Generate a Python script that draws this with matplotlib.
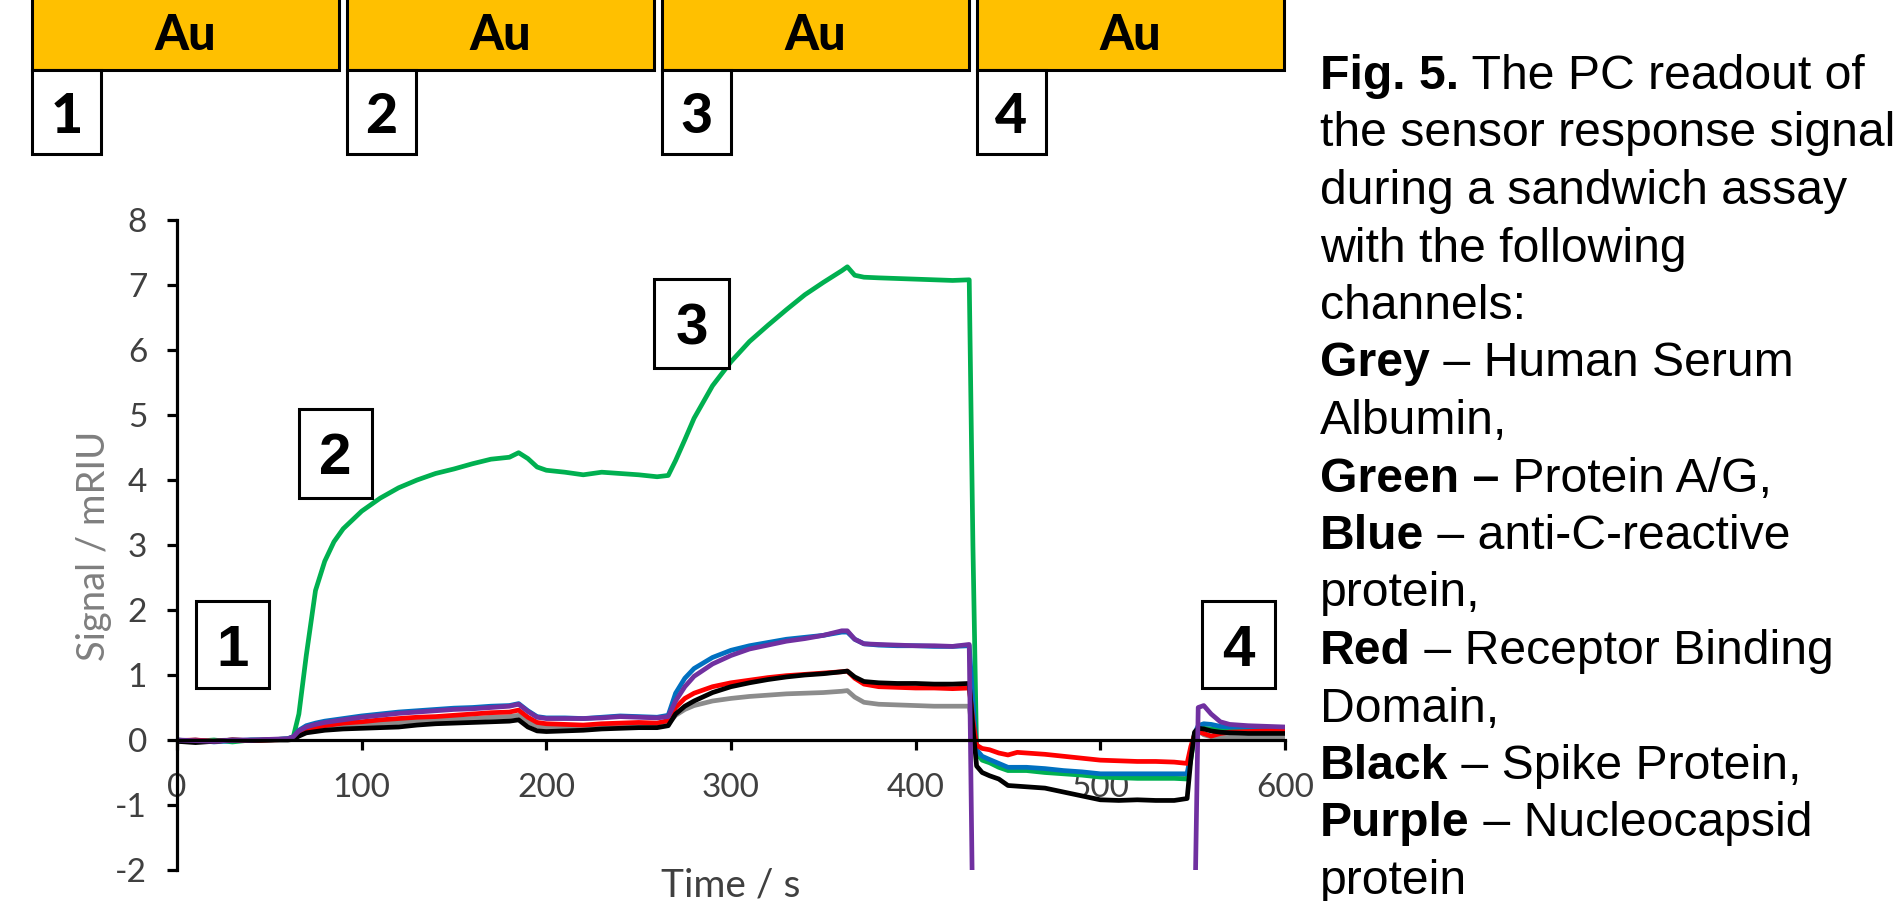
import matplotlib
matplotlib.use("Agg")
import matplotlib.pyplot as plt
from matplotlib.patches import Rectangle

plt.rcParams["font.family"] = ["Lato", "DejaVu Sans"]
plt.rcParams["axes.unicode_minus"] = False

# ---------------- data ----------------
time_s = [0, 10, 20, 30, 40, 50, 60, 63, 66, 70, 75, 80, 85, 90, 100, 110, 120, 130,
          140, 150, 160, 170, 180, 185, 190, 195, 200, 210, 220, 230, 240, 250, 260,
          266, 270, 275, 280, 290, 300, 310, 320, 330, 340, 350, 360, 363, 367, 372,
          380, 390, 400, 410, 420, 429, 431, 433, 436, 440, 445, 450, 455, 460, 470,
          480, 490, 500, 510, 520, 530, 540, 547, 549, 551, 553, 556, 560, 565, 570,
          580, 590, 600]

grey = [0.0, -0.02, -0.01, 0.0, -0.01, 0.0, 0.01, 0.02, 0.08, 0.13, 0.16, 0.18, 0.20, 0.21,
        0.23, 0.25, 0.27, 0.29, 0.30, 0.32, 0.33, 0.35, 0.36, 0.38, 0.28, 0.21, 0.19, 0.19,
        0.19, 0.21, 0.22, 0.22, 0.22, 0.25, 0.38, 0.47, 0.53, 0.60, 0.64, 0.67, 0.69, 0.71,
        0.72, 0.73, 0.75, 0.76, 0.66, 0.58, 0.55, 0.54, 0.53, 0.52, 0.52, 0.52, 0.10, -0.20,
        -0.28, -0.32, -0.38, -0.44, -0.44, -0.45, -0.47, -0.49, -0.51, -0.54, -0.55, -0.55,
        -0.55, -0.56, -0.56, -0.25, 0.08, 0.14, 0.08, 0.05, 0.04, 0.04, 0.03, 0.03, 0.03]

green = [0.0, -0.02, 0.0, -0.03, 0.0, 0.0, 0.02, 0.05, 0.40, 1.30, 2.30, 2.75, 3.05, 3.25,
         3.52, 3.72, 3.88, 4.00, 4.10, 4.17, 4.25, 4.32, 4.35, 4.42, 4.33, 4.20, 4.15, 4.12,
         4.08, 4.12, 4.10, 4.08, 4.05, 4.07, 4.30, 4.62, 4.95, 5.45, 5.82, 6.13, 6.38, 6.62,
         6.85, 7.04, 7.22, 7.28, 7.15, 7.12, 7.11, 7.10, 7.09, 7.08, 7.07, 7.08, 3.00, -0.20,
         -0.31, -0.35, -0.42, -0.47, -0.47, -0.47, -0.50, -0.52, -0.54, -0.57, -0.58, -0.59,
         -0.59, -0.59, -0.60, -0.30, 0.08, 0.15, 0.18, 0.17, 0.16, 0.15, 0.14, 0.14, 0.13]

blue = [-0.02, 0.0, -0.03, -0.01, 0.0, 0.0, 0.02, 0.05, 0.15, 0.22, 0.26, 0.29, 0.31, 0.33,
        0.37, 0.40, 0.43, 0.45, 0.47, 0.49, 0.50, 0.52, 0.53, 0.56, 0.45, 0.36, 0.34, 0.34,
        0.33, 0.35, 0.37, 0.36, 0.35, 0.38, 0.72, 0.95, 1.10, 1.27, 1.38, 1.45, 1.50, 1.55,
        1.58, 1.61, 1.66, 1.66, 1.55, 1.48, 1.46, 1.45, 1.45, 1.44, 1.44, 1.45, 0.60, -0.15,
        -0.25, -0.30, -0.36, -0.42, -0.42, -0.42, -0.44, -0.47, -0.49, -0.52, -0.52, -0.52,
        -0.52, -0.52, -0.52, -0.20, 0.10, 0.22, 0.25, 0.24, 0.21, 0.20, 0.20, 0.19, 0.18]

red = [-0.01, 0.0, -0.02, 0.0, -0.01, 0.0, 0.01, 0.03, 0.10, 0.16, 0.19, 0.22, 0.24, 0.26,
       0.28, 0.31, 0.33, 0.35, 0.36, 0.38, 0.40, 0.42, 0.43, 0.46, 0.35, 0.27, 0.25, 0.24,
       0.23, 0.25, 0.26, 0.27, 0.26, 0.30, 0.50, 0.64, 0.72, 0.82, 0.88, 0.92, 0.96, 0.99,
       1.01, 1.03, 1.05, 1.06, 0.95, 0.86, 0.82, 0.81, 0.80, 0.80, 0.79, 0.80, 0.30, -0.08,
       -0.13, -0.15, -0.20, -0.23, -0.19, -0.20, -0.22, -0.25, -0.28, -0.31, -0.32, -0.33,
       -0.33, -0.34, -0.36, -0.10, 0.08, 0.13, 0.10, 0.06, 0.10, 0.12, 0.13, 0.14, 0.15]

black = [-0.02, -0.04, -0.02, 0.0, -0.01, 0.0, 0.0, 0.01, 0.06, 0.11, 0.13, 0.15, 0.16, 0.17,
         0.18, 0.19, 0.20, 0.23, 0.25, 0.26, 0.27, 0.28, 0.29, 0.31, 0.20, 0.14, 0.13, 0.14,
         0.15, 0.17, 0.18, 0.19, 0.19, 0.22, 0.40, 0.52, 0.60, 0.73, 0.82, 0.88, 0.93, 0.97,
         1.00, 1.02, 1.05, 1.06, 0.97, 0.90, 0.88, 0.87, 0.87, 0.86, 0.86, 0.87, 0.20, -0.40,
         -0.50, -0.55, -0.60, -0.70, -0.71, -0.72, -0.74, -0.80, -0.86, -0.92, -0.93, -0.92,
         -0.93, -0.93, -0.90, -0.30, 0.12, 0.18, 0.17, 0.14, 0.12, 0.11, 0.10, 0.10, 0.10]

purple = [0.0, -0.01, -0.02, 0.0, 0.0, 0.01, 0.02, 0.05, 0.14, 0.20, 0.24, 0.27, 0.29, 0.31,
          0.35, 0.38, 0.41, 0.43, 0.45, 0.47, 0.48, 0.50, 0.52, 0.55, 0.44, 0.35, 0.33, 0.33,
          0.33, 0.34, 0.36, 0.35, 0.34, 0.36, 0.60, 0.82, 0.98, 1.17, 1.30, 1.40, 1.46, 1.52,
          1.56, 1.61, 1.68, 1.68, 1.55, 1.48, 1.47, 1.46, 1.45, 1.45, 1.44, 1.47, -3.0, -3.0,
          -3.0, -3.0, -3.0, -3.0, -3.0, -3.0, -3.0, -3.0, -3.0, -3.0, -3.0, -3.0,
          -3.0, -3.0, -3.0, -3.0, -3.0, 0.50, 0.53, 0.40, 0.28, 0.24, 0.22, 0.21, 0.20]

x_ticks = [0, 100, 200, 300, 400, 500, 600]
y_ticks = [-2, -1, 0, 1, 2, 3, 4, 5, 6, 7, 8]

steps = ["1", "2", "3", "4"]
caption_lines = [
    ("Fig. 5.", " The PC readout of"),
    ("", "the sensor response signal"),
    ("", "during a sandwich assay"),
    ("", "with the following"),
    ("", "channels:"),
    ("Grey", " \u2013 Human Serum"),
    ("", "Albumin,"),
    ("Green \u2013", " Protein A/G,"),
    ("Blue", " \u2013 anti-C-reactive"),
    ("", "protein,"),
    ("Red", " \u2013 Receptor Binding"),
    ("", "Domain,"),
    ("Black", " \u2013 Spike Protein,"),
    ("Purple", " \u2013 Nucleocapsid"),
    ("", "protein"),
]

W, H = 1903, 901
fig = plt.figure(figsize=(W / 100, H / 100), dpi=100)

# ---------------- main chart ----------------
ax = fig.add_axes([177 / W, 1 - 870 / H, (1285 - 177) / W, (870 - 220) / H])
series = [(grey, "#8c8c8c"), (green, "#00b050"), (blue, "#0070c0"),
          (red, "#ff0000"), (black, "#000000"), (purple, "#7030a0")]
for vals, col in series:
    ax.plot(time_s, vals, color=col, lw=3.4, solid_joinstyle="round")
ax.set_xlim(0, 600)
ax.set_ylim(-2, 8)
ax.spines["bottom"].set_position(("data", 0))
ax.spines["top"].set_visible(False)
ax.spines["right"].set_visible(False)
for s in ("left", "bottom"):
    ax.spines[s].set_linewidth(2.3)
ax.set_xticks(x_ticks)
ax.set_yticks(y_ticks)
ax.tick_params(axis="both", direction="out", length=7.5, width=2.3, color="black",
               labelcolor="#404040", labelsize=24)
ax.tick_params(axis="x", pad=16)
ax.tick_params(axis="y", pad=14)
ax.patch.set_alpha(0)

# ---------------- overlay in pixel coordinates ----------------
ov = fig.add_axes([0, 0, 1, 1], zorder=5)
ov.set_xlim(0, W)
ov.set_ylim(H, 0)
ov.axis("off")
ov.patch.set_alpha(0)

ov.text(731, 897, "Time / s", ha="center", va="baseline", fontsize=28, color="#404040")
ov.text(94, 546, "Signal / mRIU", rotation=90, ha="center", va="center",
        fontsize=27.5, color="#7f7f7f")

# top Au bands with numbered boxes
au_left = [32, 347, 662, 977]
for i, x0 in enumerate(au_left):
    ov.add_patch(Rectangle((x0, -6), 307, 76, facecolor="#ffc000", edgecolor="black", lw=2.2))
    ov.text(x0 + 153, 50, "Au", ha="center", va="baseline", fontsize=35,
            fontweight="black", color="black")
    ov.add_patch(Rectangle((x0, 70), 69, 84, facecolor="white", edgecolor="black", lw=2.2))
    ov.text(x0 + 34.5, 133, steps[i], ha="center", va="baseline", fontsize=40,
            fontweight="black", color="black")

# numbered boxes inside chart
in_boxes = [(196, 601, 73, 87), (299, 409, 73, 89), (654, 279, 75, 89), (1202, 601, 73, 87)]
for i, (x0, y0, w, h) in enumerate(in_boxes):
    ov.add_patch(Rectangle((x0, y0), w, h, facecolor="white", edgecolor="black", lw=2.2))
    ov.text(x0 + w / 2, y0 + h / 2 + 21, steps[i], ha="center", va="baseline",
            fontsize=42, fontweight="bold", family="Liberation Sans", color="black")

# caption
renderer = fig.canvas.get_renderer()
for i, (b, r) in enumerate(caption_lines):
    y = 89 + i * 57.5
    x = 1320
    if b:
        t = ov.text(x, y, b, fontsize=34.7, fontweight="bold", family="Liberation Sans",
                    va="baseline", ha="left", color="black")
        x = t.get_window_extent(renderer).x1
    if r:
        ov.text(x, y, r, fontsize=34.7, family="Liberation Sans", va="baseline",
                ha="left", color="black")

fig.savefig("out.png", dpi=100)
